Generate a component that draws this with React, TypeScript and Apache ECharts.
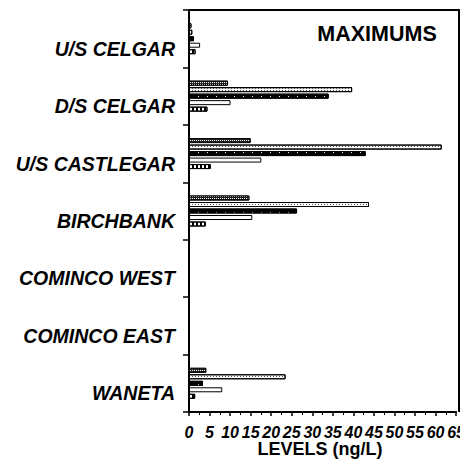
import React, { useEffect, useRef } from "react";
import * as echarts from "echarts";

const categories = [
  "U/S CELGAR",
  "D/S CELGAR",
  "U/S CASTLEGAR",
  "BIRCHBANK",
  "COMINCO WEST",
  "COMINCO EAST",
  "WANETA",
];

const series1 = [0.6, 9.5, 15, 14.7, null, null, 4.2];
const series2 = [0.8, 39.7, 61.5, 43.8, null, null, 23.5];
const series3 = [1.2, 34, 43, 26.3, null, null, 3.4];
const series4 = [2.7, 10.1, 17.6, 15.4, null, null, 8.1];
const series5 = [1.6, 4.5, 5.3, 4.1, null, null, 1.5];

const xTicks = { min: 0, max: 65, interval: 5 };

const FONT = "'Liberation Sans', Arial, sans-serif";

const GRID = { left: 189, right: 9, top: 10, bottom: 57 };
const W = 468;
const H = 469;

export default function App() {
  const ref = useRef<HTMLDivElement>(null);
  useEffect(() => {
    if (!ref.current) return;
    const chart = echarts.init(ref.current, null, { renderer: "svg" });
    const barBase = {
      type: "bar" as const,
      barWidth: 5,
      barGap: "30%",
      barCategoryGap: "40%",
      xAxisIndex: 0,
      yAxisIndex: 0,
    };
    const border = { borderColor: "#000", borderWidth: 1 };
    const x0 = GRID.left;
    const x1 = W - GRID.right;
    const y0 = GRID.top;
    const y1 = H - GRID.bottom;
    chart.setOption({
      animation: false,
      backgroundColor: "#fff",
      grid: [{ ...GRID }],
      xAxis: [
        {
          type: "value",
          min: xTicks.min,
          max: xTicks.max,
          interval: xTicks.interval,
          splitLine: { show: false },
          position: "bottom",
          axisLine: { show: true, lineStyle: { color: "#000", width: 2 } },
          axisTick: { show: true, length: 4, lineStyle: { color: "#000", width: 1.5 } },
          minorTick: { show: true, splitNumber: 2, length: 3, lineStyle: { color: "#000" } },
          axisLabel: {
            margin: 12,
            fontFamily: FONT,
            fontSize: 16,
            fontWeight: "bold",
            fontStyle: "italic",
            color: "#000",
          },
        },
      ],
      yAxis: [
        {
          type: "category",
          data: categories,
          inverse: true,
          axisLine: { show: true, lineStyle: { color: "#000", width: 2 } },
          axisTick: { show: true, length: 6, lineStyle: { color: "#000", width: 1.5 } },
          axisLabel: {
            margin: 14,
            verticalAlign: "top",
            fontFamily: FONT,
            fontSize: 19.5,
            fontWeight: "bold",
            fontStyle: "italic",
            color: "#000",
          },
        },
      ],
      graphic: [
        {
          type: "polyline",
          z: 100,
          shape: {
            points: [
              [x0, y0],
              [x1, y0],
              [x1, y1],
            ],
          },
          style: { stroke: "#000", lineWidth: 2, fill: null },
          silent: true,
        },
        {
          type: "text",
          x: 377,
          y: 34,
          style: {
            text: "MAXIMUMS",
            fontFamily: FONT,
            fontSize: 21.5,
            fontWeight: "bold",
            fill: "#000",
            textAlign: "center",
            textVerticalAlign: "middle",
          },
        },
        {
          type: "text",
          x: 320,
          y: 449,
          style: {
            text: "LEVELS (ng/L)",
            fontFamily: FONT,
            fontSize: 18,
            fontWeight: "bold",
            fill: "#000",
            textAlign: "center",
            textVerticalAlign: "middle",
          },
        },
      ],
      series: [
        {
          ...barBase,
          name: "Series 1",
          data: series1,
          itemStyle: {
            ...border,
            color: "#222",
            decal: { symbol: "rect", symbolSize: 1, color: "#fff", dashArrayX: [1, 1], dashArrayY: [1, 1], rotation: 0 },
          },
        },
        {
          ...barBase,
          name: "Series 2",
          data: series2,
          itemStyle: {
            ...border,
            color: "#fff",
            decal: { symbol: "rect", symbolSize: 1, color: "#555", dashArrayX: [1, 2], dashArrayY: [1, 1], rotation: 0 },
          },
        },
        {
          ...barBase,
          name: "Series 3",
          data: series3,
          itemStyle: {
            ...border,
            color: "#000",
            decal: { symbol: "rect", symbolSize: 1, color: "#fff", dashArrayX: [1, 8], dashArrayY: [1, 3], rotation: 0 },
          },
        },
        {
          ...barBase,
          name: "Series 4",
          data: series4,
          itemStyle: { ...border, color: "#fff" },
        },
        {
          ...barBase,
          name: "Series 5",
          data: series5,
          itemStyle: {
            ...border,
            color: "#fff",
            decal: { symbol: "rect", symbolSize: 1, color: "#000", dashArrayX: [1.5, 1.5], dashArrayY: [10, 0], rotation: 0 },
          },
        },
      ],
    });
    return () => chart.dispose();
  }, []);
  return <div ref={ref} style={{ width: W, height: H, margin: -8 }} />;
}
